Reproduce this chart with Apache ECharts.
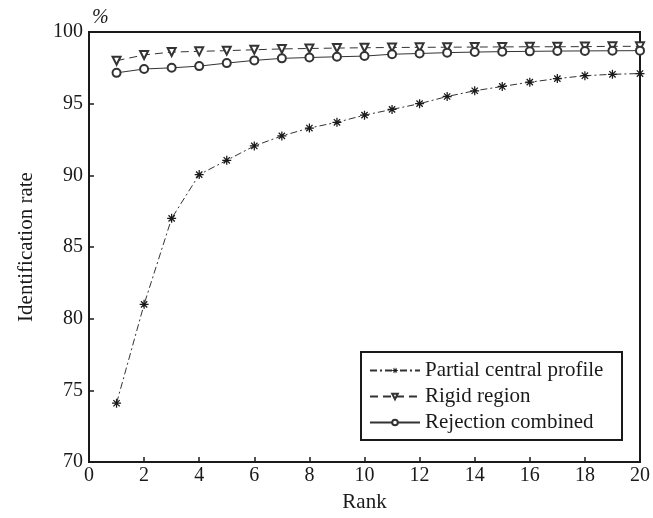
<!DOCTYPE html>
<html><head><meta charset="utf-8">
<script src="https://cdn.jsdelivr.net/npm/echarts@6/dist/echarts.min.js"></script>
<style>html,body{margin:0;padding:0;background:#fff}#c{width:653px;height:518px}</style>
</head><body><div id="c"></div>
<script>
var ranks = [1,2,3,4,5,6,7,8,9,10,11,12,13,14,15,16,17,18,19,20];
var partialCentral = [74.1,81.0,87.0,90.05,91.05,92.05,92.75,93.3,93.7,94.2,94.6,95.0,95.5,95.9,96.2,96.5,96.75,96.95,97.05,97.1];
var rigidRegion = [98.0,98.4,98.6,98.65,98.7,98.76,98.82,98.85,98.88,98.9,98.92,98.93,98.94,98.95,98.96,98.97,98.97,98.98,99.0,99.0];
var rejectionCombined = [97.15,97.42,97.5,97.62,97.83,98.02,98.16,98.22,98.27,98.32,98.45,98.5,98.56,98.6,98.63,98.65,98.67,98.68,98.69,98.7];
var seriesNames = ['Partial central profile','Rigid region','Rejection combined'];
var xTicks = [0,2,4,6,8,10,12,14,16,18,20];
var yTicks = [70,75,80,85,90,95,100];

function pairs(v){ return ranks.map(function(r,i){ return [r, v[i]]; }); }
var FONT = '"Liberation Serif","Times New Roman",serif';
var INK = '#1a1a1a';
var LINE = '#333';
var star = 'path://M0,4.3L10,4.3L10,5.7L0,5.7Z M4.3,0L5.7,0L5.7,10L4.3,10Z M1,2L2,1L9,8L8,9Z M8,1L9,2L2,9L1,8Z M3.5,3.5L6.5,3.5L6.5,6.5L3.5,6.5Z';

var chart = echarts.init(document.getElementById('c'), null, {renderer:'canvas'});
chart.setOption({
  backgroundColor:'#fff',
  animation:false,
  grid:{left:89, top:32, right:8, bottom:49, show:true, borderColor:INK, borderWidth:2, backgroundColor:'transparent'},
  xAxis:{type:'value', min:xTicks[0], max:xTicks[xTicks.length-1], interval:2,
    name:'Rank', nameLocation:'middle', nameGap:30,
    nameTextStyle:{fontFamily:FONT, fontSize:21, color:INK},
    axisLine:{show:true, lineStyle:{color:INK, width:2}},
    axisTick:{show:true, inside:true, length:5, lineStyle:{color:INK, width:1.5}},
    axisLabel:{fontFamily:FONT, fontSize:20, color:INK, margin:4},
    splitLine:{show:false}},
  yAxis:{type:'value', min:yTicks[0], max:yTicks[yTicks.length-1], interval:5,
    name:'Identification rate', nameLocation:'middle', nameGap:52,
    nameTextStyle:{fontFamily:FONT, fontSize:21, color:INK},
    axisLine:{show:true, lineStyle:{color:INK, width:2}},
    axisTick:{show:true, inside:true, length:5, lineStyle:{color:INK, width:1.5}},
    axisLabel:{fontFamily:FONT, fontSize:20, color:INK, margin:6},
    splitLine:{show:false}},
  legend:{
    orient:'vertical', left:364, top:355,
    itemWidth:50, itemHeight:7, itemGap:5,
    textStyle:{fontFamily:FONT, fontSize:21, color:INK, lineHeight:21},
    data:seriesNames
  },
  graphic:[
    {type:'rect', left:360, top:351, shape:{width:261, height:88}, style:{fill:'#fff', stroke:INK, lineWidth:2}, z:0, silent:true},
    {type:'text', left:92, top:8, style:{text:'%', font:'italic 20px '+FONT, fill:INK}}
  ],
  series:[
    {name:seriesNames[0], type:'line', data:pairs(partialCentral),
     symbol:star, symbolSize:9, showSymbol:true,
     lineStyle:{color:LINE, width:1, type:[7,3,2,3]},
     itemStyle:{color:INK}},
    {name:seriesNames[1], type:'line', data:pairs(rigidRegion),
     symbol:'emptyTriangle', symbolRotate:180, symbolSize:8,
     lineStyle:{color:LINE, width:1, type:[8,5]},
     itemStyle:{color:LINE, borderColor:LINE, borderWidth:0.9}},
    {name:seriesNames[2], type:'line', data:pairs(rejectionCombined),
     symbol:'emptyCircle', symbolSize:8,
     lineStyle:{color:LINE, width:1, type:'solid'},
     itemStyle:{color:LINE, borderColor:LINE, borderWidth:0.9}}
  ]
});
</script></body></html>
